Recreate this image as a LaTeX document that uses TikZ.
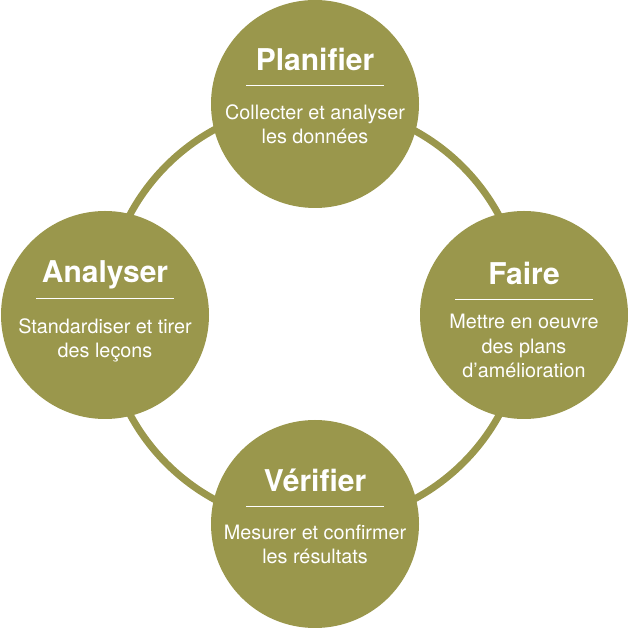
\documentclass[tikz,border=0pt]{standalone}
\usepackage{fontspec}
\setmainfont{TeX Gyre Heros}
\definecolor{olive}{RGB}{154,151,76}
\tikzset{
  x=1pt,y=1pt,
  phase/.style={circle,fill=olive,minimum size=208pt,inner sep=0pt},
  ring/.style={draw=olive,line width=7pt},
  ttl/.style={anchor=base,text=white,font=\fontsize{30}{30}\selectfont\bfseries,inner sep=0pt},
  sub/.style={anchor=base,text=white,font=\fontsize{19.8}{24.5}\selectfont,inner sep=0pt,align=center},
  sep/.style={draw=white,line width=1pt}
}
\begin{document}
\begin{tikzpicture}
\useasboundingbox (0,0) rectangle (628,628);
\coordinate (ctr) at (315,314);
\coordinate (pc) at (315,524);
\coordinate (fc) at (524,313);
\coordinate (vc) at (315,104);
\coordinate (ac) at (105,313);
\draw[ring] (pc) arc[start angle=90,end angle=180,radius=210];
\draw[ring] (ac) arc[start angle=180,end angle=270,radius=210];
\draw[ring] (vc) arc[start angle=270,end angle=360,radius=210];
\draw[ring] (fc) arc[start angle=0,end angle=90,radius=210];
\node[phase] (p) at (pc) {};
\node[phase] (f) at (fc) {};
\node[phase] (v) at (vc) {};
\node[phase] (a) at (ac) {};
% titles
\node[ttl] (pt) at ([yshift=33pt]p.center) {Planifier};
\node[ttl] (ft) at ([yshift=30pt]f.center) {Faire};
\node[ttl] (vt) at ([yshift=32pt]v.center) {Vérifier};
\node[ttl] (at) at ([yshift=32pt]a.center) {Analyser};
% rules
\draw[sep] ([xshift=-69pt,yshift=18pt]p.center) -- ([xshift=69pt,yshift=18pt]p.center);
\draw[sep] ([xshift=-69pt,yshift=15pt]f.center) -- ([xshift=69pt,yshift=15pt]f.center);
\draw[sep] ([xshift=-69pt,yshift=17pt]v.center) -- ([xshift=69pt,yshift=17pt]v.center);
\draw[sep] ([xshift=-69pt,yshift=16pt]a.center) -- ([xshift=69pt,yshift=16pt]a.center);
% subtitles (base = baseline of last line)
\node[sub] (ps) at ([yshift=-40pt]p.center) {Collecter et analyser\\les données};
\node[sub] (fs) at ([yshift=-63pt]f.center) {Mettre en oeuvre\\des plans\\d’amélioration};
\node[sub] (vs) at ([yshift=-40pt]v.center) {Mesurer et confirmer\\les résultats};
\node[sub] (as) at ([yshift=-43pt]a.center) {Standardiser et tirer\\des leçons};
\end{tikzpicture}
\end{document}
